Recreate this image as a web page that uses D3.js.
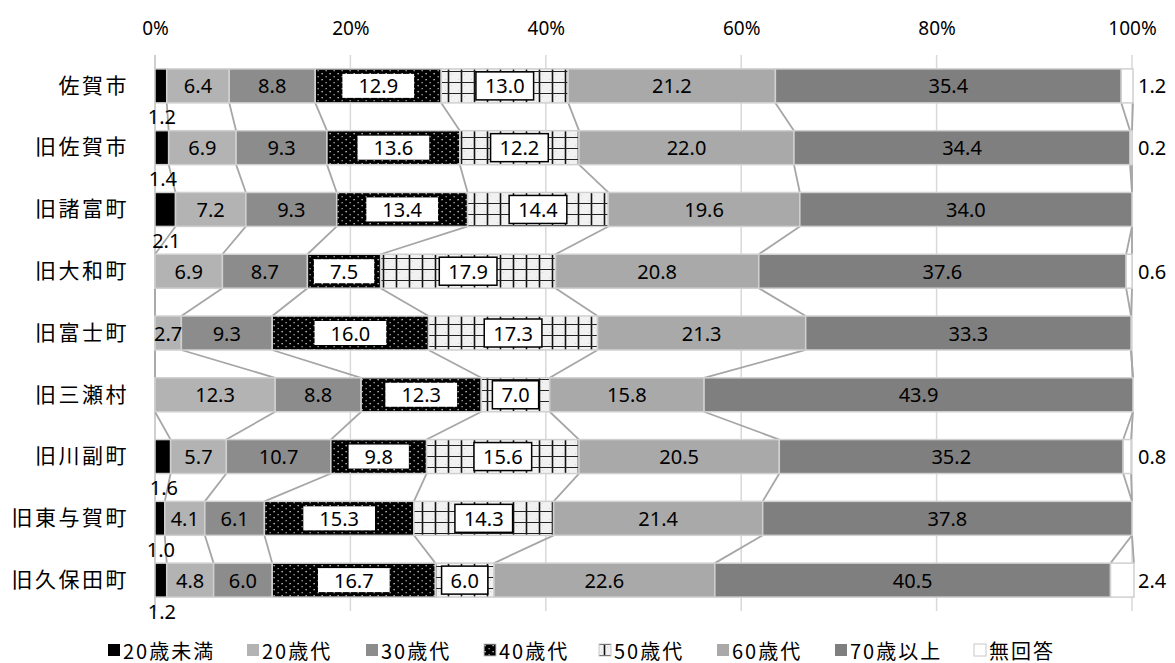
<!DOCTYPE html>
<html><head><meta charset="utf-8">
<script src="https://cdn.jsdelivr.net/npm/d3@7"></script>
<style>
body{margin:0;background:#fff;}
svg{display:block;}
</style></head>
<body>
<svg id="chart" width="1175" height="663"></svg>
<script>
const categories = ["佐賀市","旧佐賀市","旧諸富町","旧大和町","旧富士町","旧三瀬村","旧川副町","旧東与賀町","旧久保田町"];
const seriesNames = ["20歳未満","20歳代","30歳代","40歳代","50歳代","60歳代","70歳以上","無回答"];
const under20   = [1.2,1.4,2.1,0,0,0,1.6,1.0,1.2];
const age20s    = [6.4,6.9,7.2,6.9,2.7,12.3,5.7,4.1,4.8];
const age30s    = [8.8,9.3,9.3,8.7,9.3,8.8,10.7,6.1,6.0];
const age40s    = [12.9,13.6,13.4,7.5,16.0,12.3,9.8,15.3,16.7];
const age50s    = [13.0,12.2,14.4,17.9,17.3,7.0,15.6,14.3,6.0];
const age60s    = [21.2,22.0,19.6,20.8,21.3,15.8,20.5,21.4,22.6];
const age70plus = [35.4,34.4,34.0,37.6,33.3,43.9,35.2,37.8,40.5];
const noAnswer  = [1.2,0.2,0,0.6,0,0,0.8,0,2.4];
const tickValues = [0,20,40,60,80,100];

const seriesValues = [under20,age20s,age30s,age40s,age50s,age60s,age70plus,noAnswer];
const rows = categories.map((c,i)=>{
  const o={cat:c};
  seriesNames.forEach((s,k)=>o[s]=seriesValues[k][i]);
  return o;
});

const svg = d3.select("#chart");
const defs = svg.append("defs");
const p40 = defs.append("pattern").attr("id","p40").attr("patternUnits","userSpaceOnUse").attr("width",8).attr("height",6);
p40.append("rect").attr("width",8).attr("height",6).attr("fill","#000");
p40.append("rect").attr("x",1.5).attr("y",1).attr("width",1.3).attr("height",1.3).attr("fill","#d8d8d8");
p40.append("rect").attr("x",5.5).attr("y",4).attr("width",1.3).attr("height",1.3).attr("fill","#a8a8a8");
const p50 = defs.append("pattern").attr("id","p50").attr("patternUnits","userSpaceOnUse").attr("width",13).attr("height",11);
p50.append("rect").attr("width",13).attr("height",11).attr("fill","#f1f1f1");
p50.append("rect").attr("x",3).attr("y",2).attr("width",1).attr("height",1).attr("fill","#d6d6d6");
p50.append("rect").attr("x",9).attr("y",8).attr("width",1).attr("height",1).attr("fill","#d6d6d6");
p50.append("line").attr("x1",6.5).attr("x2",6.5).attr("y1",0).attr("y2",11).attr("stroke","#111").attr("stroke-width",1.6);
p50.append("line").attr("x1",0).attr("x2",13).attr("y1",5.5).attr("y2",5.5).attr("stroke","#222").attr("stroke-width",1);

const fills = ["#000000","#b3b3b3","#8c8c8c","url(#p40)","url(#p50)","#a9a9a9","#7f7f7f","#ffffff"];

const x = d3.scaleLinear().domain([0,100]).range([155,1132]);
const y = d3.scaleBand().domain(categories).range([55,611]).paddingInner(0.45).paddingOuter(0.225);

svg.append("g").selectAll("line").data(tickValues.filter(t=>t>0)).join("line")
  .attr("x1",d=>x(d)).attr("x2",d=>x(d)).attr("y1",55).attr("y2",611)
  .attr("stroke","#d9d9d9").attr("stroke-width",1.5);
svg.append("line").attr("x1",x(0)).attr("x2",x(0)).attr("y1",55).attr("y2",611)
  .attr("stroke","#bfbfbf").attr("stroke-width",1.5);

const xAxis = d3.axisTop(x).tickValues(tickValues).tickFormat(d=>d+"%").tickSize(0).tickPadding(20);
const gx = svg.append("g").attr("transform","translate(0,55)").call(xAxis);
gx.select(".domain").remove();
gx.selectAll("text").attr("font-family","'Noto Sans', sans-serif").attr("font-size",19).attr("fill","#000");

const yAxis = d3.axisLeft(y).tickSize(0).tickPadding(26);
const gy = svg.append("g").attr("transform","translate(155,0)").call(yAxis);
gy.select(".domain").remove();
gy.selectAll("text").attr("font-family","'Noto Sans CJK JP', sans-serif").attr("font-size",21).attr("letter-spacing","2.5px").attr("fill","#000");

const stack = d3.stack().keys(seriesNames);
const stacked = stack(rows);

const conn = svg.append("g");
stacked.forEach(layer=>{
  for(let i=0;i<categories.length-1;i++){
    const a=layer[i], b=layer[i+1];
    conn.append("line")
      .attr("x1",x(a[1])).attr("y1",y(categories[i])+y.bandwidth())
      .attr("x2",x(b[1])).attr("y2",y(categories[i+1]))
      .attr("stroke","#a6a6a6").attr("stroke-width",1.8);
  }
});

const gBars = svg.append("g");
stacked.forEach((layer,k)=>{
  gBars.append("g").selectAll("rect").data(layer).join("rect")
    .attr("x",d=>x(d[0])).attr("y",d=>y(d.data.cat))
    .attr("width",d=>Math.max(0,x(d[1])-x(d[0])))
    .attr("height",y.bandwidth())
    .attr("fill",fills[k])
    .attr("stroke",d=>(d[1]-d[0])>0?"#d0d0d0":"none").attr("stroke-width",1.5);
});

const gLab = svg.append("g").attr("font-family","'Noto Sans', sans-serif").attr("font-size",20).attr("fill","#000");
stacked.forEach((layer,k)=>{
  layer.forEach(d=>{
    const v = d[1]-d[0];
    if(v<=0.001) return;
    const txt = d3.format(".1f")(seriesValues[k][categories.indexOf(d.data.cat)]);
    const cy = y(d.data.cat)+y.bandwidth()/2;
    let tx, ty, anchor="middle";
    if(k===0){ tx=(x(d[0])+x(d[1]))/2+1; ty=y(d.data.cat)+y.bandwidth()+14; }
    else if(k===7){ tx=1138; ty=cy; anchor="start"; }
    else { tx=(x(d[0])+x(d[1]))/2; ty=cy; }
    const t = gLab.append("text").attr("x",tx).attr("y",ty).attr("text-anchor",anchor)
      .attr("dominant-baseline","central").text(txt);
    if(k===3||k===4){
      const w = t.node().getComputedTextLength();
      const bw = k===3? w+32 : w+18;
      const bh = k===3? 24 : 28;
      gLab.insert("rect", () => t.node())
        .attr("x",tx-bw/2).attr("y",cy-bh/2).attr("width",bw).attr("height",bh)
        .attr("fill","#fff").attr("stroke",k===4?"#000":"none").attr("stroke-width",1.5);
    }
  });
});

const legend = svg.append("g").attr("transform","translate(0,650)");
const legendX = [107,246,365,483,598,716,834,973];
seriesNames.forEach((s,k)=>{
  const g = legend.append("g").attr("transform",`translate(${legendX[k]},0)`);
  g.append("rect").attr("x",1).attr("y",-6).attr("width",12).attr("height",12)
    .attr("fill",fills[k]).attr("stroke",(k===3||k===4||k===7)?"#c8c8c8":"none").attr("stroke-width",1);
  g.append("text").attr("x",16).attr("y",0).attr("dominant-baseline","central")
    .attr("font-family","'Noto Sans CJK JP', sans-serif").attr("font-size",20).attr("letter-spacing","2px").attr("fill","#000").text(s);
});
</script>
</body></html>
